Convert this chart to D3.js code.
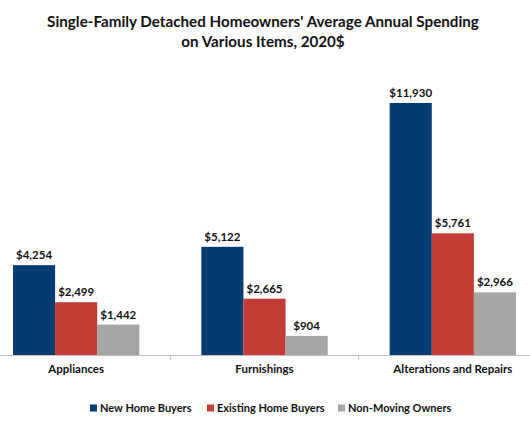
<!DOCTYPE html>
<html><head><meta charset="utf-8">
<script src="https://cdn.jsdelivr.net/npm/d3@7"></script>
<style>body{margin:0;background:#fff}svg{display:block}</style>
</head><body>
<script>
const categories = ["Appliances", "Furnishings", "Alterations and Repairs"];
const seriesNames = ["New Home Buyers", "Existing Home Buyers", "Non-Moving Owners"];
const newHomeBuyers = [4254, 5122, 11930];
const existingHomeBuyers = [2499, 2665, 5761];
const nonMovingOwners = [1442, 904, 2966];
const colors = ["#063B73", "#C33C36", "#A6A6A6"];

const W = 530, H = 442;
const font = "Lato, 'Open Sans', sans-serif";
const svg = d3.select("body").append("svg").attr("width", W).attr("height", H);

svg.append("text").attr("x", 263).attr("y", 27).attr("text-anchor", "middle")
  .attr("font-family", font).attr("font-weight", "bold").attr("font-size", 15.2).attr("fill", "#111")
  .text("Single-Family Detached Homeowners' Average Annual Spending");
svg.append("text").attr("x", 263).attr("y", 47).attr("text-anchor", "middle")
  .attr("font-family", font).attr("font-weight", "bold").attr("font-size", 15.2).attr("fill", "#111")
  .text("on Various Items, 2020$");

const x0 = d3.scaleBand().domain(categories).range([-18, 547]).paddingInner(0).paddingOuter(0);
const x1 = d3.scaleBand().domain(seriesNames).range([31, x0.bandwidth() - 31]).padding(0);
const y = d3.scaleLinear().domain([0, 11930]).range([355, 103]);

const data = categories.map((c, i) => ({
  cat: c,
  vals: [newHomeBuyers[i], existingHomeBuyers[i], nonMovingOwners[i]]
}));

const g = svg.append("g");
const groups = g.selectAll("g.cat").data(data).join("g")
  .attr("transform", d => `translate(${x0(d.cat)},0)`);
groups.selectAll("rect").data(d => d.vals.map((v, j) => ({v, s: seriesNames[j], j})))
  .join("rect")
  .attr("x", d => x1(d.s)).attr("width", x1.bandwidth())
  .attr("y", d => y(d.v)).attr("height", d => y(0) - y(d.v))
  .attr("fill", d => colors[d.j]);
groups.selectAll("text.val").data(d => d.vals.map((v, j) => ({v, s: seriesNames[j], j})))
  .join("text").attr("class", "val")
  .attr("x", d => x1(d.s) + x1.bandwidth() / 2)
  .attr("y", d => y(d.v) - 6)
  .attr("text-anchor", "middle").attr("font-family", font).attr("font-weight", "bold")
  .attr("font-size", 11.5).attr("fill", "#111")
  .text(d => "$" + d3.format(",")(d.v));

// axis
const ax = svg.append("g").attr("transform", "translate(0,355)")
  .call(d3.axisBottom(x0).tickSize(0).tickSizeOuter(0));
ax.select(".domain").attr("stroke", "#BFBFBF");
ax.selectAll(".tick text").attr("font-family", font).attr("font-weight", "bold")
  .attr("font-size", 11.5).attr("fill", "#111").attr("dy", "1.3em");
// boundary tick marks
svg.selectAll("line.bt").data(categories.slice(1)).join("line").attr("class", "bt")
  .attr("x1", d => x0(d)).attr("x2", d => x0(d)).attr("y1", 355).attr("y2", 360)
  .attr("stroke", "#BFBFBF");

// legend
const legX = [90, 207, 338];
const leg = svg.selectAll("g.leg").data(seriesNames).join("g").attr("class", "leg")
  .attr("transform", (d, i) => `translate(${legX[i]},412)`);
leg.append("rect").attr("x", 0).attr("y", -7.5).attr("width", 7).attr("height", 7)
  .attr("fill", (d, i) => colors[i]);
leg.append("text").attr("x", 10).attr("y", 0).attr("font-family", font).attr("font-weight", "bold")
  .attr("font-size", 11).attr("fill", "#111").text(d => d);
</script>
</body></html>
